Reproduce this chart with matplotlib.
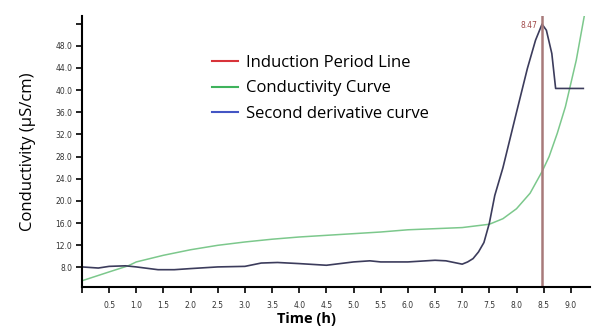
import matplotlib
matplotlib.use("Agg")
import matplotlib.pyplot as plt
from matplotlib.lines import Line2D

# ---------------------------------------------------------------------
# Data
# ---------------------------------------------------------------------
time_cond = [0.0, 0.5, 0.85, 1.0, 1.5, 2.0, 2.5, 3.0, 3.5, 4.0, 4.5, 5.0, 5.5,
             6.0, 6.5, 7.0, 7.5, 7.75, 8.0, 8.25, 8.47, 8.6, 8.75, 8.9, 9.0,
             9.1, 9.2, 9.25]
conductivity = [5.6, 7.2, 8.3, 9.0, 10.2, 11.2, 12.0, 12.6, 13.1, 13.5, 13.8,
                14.1, 14.4, 14.8, 15.0, 15.2, 15.8, 16.8, 18.6, 21.4, 25.3,
                28.0, 32.2, 37.0, 41.2, 45.4, 50.8, 53.5]

time_deriv = [0.0, 0.3, 0.5, 0.8, 1.0, 1.4, 1.7, 2.0, 2.5, 3.0, 3.3, 3.6, 4.0,
              4.5, 5.0, 5.3, 5.5, 6.0, 6.5, 6.7, 6.9, 7.0, 7.1, 7.2, 7.3, 7.4,
              7.5, 7.6, 7.75, 8.0, 8.2, 8.35, 8.47, 8.55, 8.65, 8.72, 9.23]
second_deriv = [8.1, 7.9, 8.2, 8.3, 8.1, 7.6, 7.6, 7.8, 8.1, 8.2, 8.8, 8.9,
                8.7, 8.4, 9.0, 9.2, 9.0, 9.0, 9.3, 9.2, 8.8, 8.6, 9.0, 9.6,
                10.8, 12.5, 16.0, 21.0, 26.0, 36.0, 43.9, 49.0, 51.9, 50.8,
                46.6, 40.3, 40.3]

induction_time = 8.47

x_ticks = [0.5, 1.0, 1.5, 2.0, 2.5, 3.0, 3.5, 4.0, 4.5, 5.0, 5.5, 6.0, 6.5,
           7.0, 7.5, 8.0, 8.5, 9.0]
y_ticks = [8, 12, 16, 20, 24, 28, 32, 36, 40, 44, 48, 52]
y_tick_labels = ["8.0", "12.0", "16.0", "20.0", "24.0", "28.0", "32.0",
                 "36.0", "40.0", "44.0", "48.0", ""]

legend_labels = ["Induction Period Line", "Conductivity Curve",
                 "Second derivative curve"]
legend_colors = ["#d8333a", "#3fb35c", "#4455c4"]

# ---------------------------------------------------------------------
# Plot
# ---------------------------------------------------------------------
fig = plt.figure(figsize=(5.94, 3.30), dpi=100)
ax = fig.add_axes([0.138, 0.129, 0.855, 0.823])

ax.plot(time_cond, conductivity, color="#7cc88c", lw=1.1)
ax.plot(time_deriv, second_deriv, color="#3c3c5c", lw=1.2)
ax.axvline(induction_time, color="#a87a7a", lw=1.8)
ax.text(induction_time - 0.08, 51.7, f"{induction_time:.2f}", color="#a04848",
        fontsize=5.5, ha="right", va="center")

ax.set_xlim(0, 9.35)
ax.set_ylim(4.4, 53.4)
ax.set_xticks([0] + x_ticks)
ax.set_xticklabels([""] + [f"{t:.1f}" for t in x_ticks])
ax.set_yticks(y_ticks)
ax.set_yticklabels(y_tick_labels)
ax.tick_params(axis="both", direction="out", length=4, width=1.2,
               labelsize=5.5, labelcolor="#333333", pad=3)
ax.tick_params(axis="x", pad=6)

for side in ["top", "right"]:
    ax.spines[side].set_visible(False)
for side in ["left", "bottom"]:
    ax.spines[side].set_linewidth(1.5)

ax.set_ylabel("Conductivity (µS/cm)", fontsize=12, family="Open Sans",
              labelpad=14)
ax.set_xlabel("Time (h)", fontsize=10.5, fontweight="bold",
              family="Open Sans", labelpad=4)
ax.xaxis.set_label_coords(0.443, -0.09)

handles = [Line2D([], [], color=c, lw=1.5) for c in legend_colors]
ax.legend(handles, legend_labels, loc="upper left",
          bbox_to_anchor=(0.226, 0.91), frameon=False,
          prop={"family": "Open Sans", "size": 12}, handlelength=1.6,
          handletextpad=0.45, labelspacing=0.55)

fig.savefig("out.png", dpi=100)
